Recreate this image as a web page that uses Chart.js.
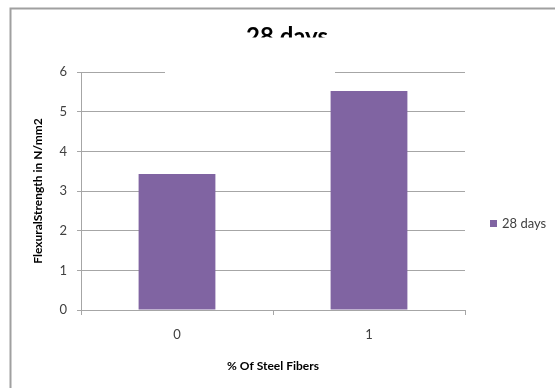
<!DOCTYPE html>
<html>
<head>
<meta charset="utf-8">
<script src="https://cdn.jsdelivr.net/npm/chart.js@4.4.0/dist/chart.umd.min.js"></script>
<style>
  html, body { margin: 0; padding: 0; background: #ffffff; }
  #wrap { width: 555px; height: 388px; position: relative; }
</style>
</head>
<body>
<div id="wrap"><canvas id="c" width="555" height="388"></canvas></div>
<script>
// Flexural strength at 28 days vs. steel fibre content
const categories = ['0', '1'];
const strength28 = [3.43, 5.52];
const yTicks = [0, 1, 2, 3, 4, 5, 6];
const seriesName = '28 days';
const chartTitle = '28 days';
const xTitle = '% Of Steel Fibers';
const yTitle = 'FlexuralStrength in N/mm2';

const FONT = 'Lato, "Liberation Sans", sans-serif';
const BAR_COLOR = '#8064A2';
const GRID = '#a6a6a6';

// Frame, heading (partly masked by its own white box) and side legend
const decorations = {
  id: 'decorations',
  beforeDraw(chart) {
    const ctx = chart.ctx;
    ctx.save();
    ctx.fillStyle = '#ffffff';
    ctx.fillRect(0, 0, chart.width, chart.height);
    ctx.restore();
  },
  afterDraw(chart) {
    const ctx = chart.ctx;
    ctx.save();
    // outer frame
    ctx.strokeStyle = '#a0a0a0';
    ctx.lineWidth = 2;
    ctx.strokeRect(10.5, 8.5, 700, 500);

    // heading
    ctx.fillStyle = '#000000';
    ctx.font = 'bold 24px ' + FONT;
    ctx.textAlign = 'center';
    ctx.textBaseline = 'alphabetic';
    ctx.fillText(chartTitle, 287, 45);

    // white box over the lower half of the heading
    ctx.fillStyle = '#ffffff';
    ctx.fillRect(165, 37.5, 170, 37);

    // legend
    ctx.fillStyle = BAR_COLOR;
    ctx.fillRect(490, 220, 7, 7);
    ctx.fillStyle = '#404040';
    ctx.font = '13px ' + FONT;
    ctx.textAlign = 'left';
    ctx.textBaseline = 'middle';
    ctx.fillText(seriesName, 502, 224);
    ctx.restore();
  }
};

new Chart(document.getElementById('c'), {
  type: 'bar',
  data: {
    labels: categories,
    datasets: [{
      label: seriesName,
      data: strength28,
      backgroundColor: BAR_COLOR,
      borderWidth: 0,
      barPercentage: 0.4,
      categoryPercentage: 1.0
    }]
  },
  options: {
    responsive: false,
    animation: false,
    layout: { padding: { top: 72, right: 90, bottom: 0, left: 0 } },
    plugins: {
      legend: { display: false },
      title: { display: false },
      tooltip: { enabled: false }
    },
    scales: {
      x: {
        offset: true,
        grid: {
          display: true,
          drawOnChartArea: false,
          drawTicks: true,
          tickLength: 5,
          color: GRID,
          offset: true
        },
        border: { display: true, color: GRID, width: 1 },
        ticks: {
          color: '#404040',
          font: { family: FONT, size: 13 },
          padding: 12
        },
        title: {
          display: true,
          text: xTitle,
          color: '#000000',
          font: { family: FONT, size: 12, weight: 'bold' },
          padding: { top: 0, bottom: 14.8 }
        },
        afterFit(scale) { scale.height = 78; }
      },
      y: {
        min: yTicks[0],
        max: yTicks[yTicks.length - 1],
        afterBuildTicks(scale) { scale.ticks = yTicks.map(v => ({ value: v })); },
        grid: {
          color: GRID,
          drawTicks: true,
          tickLength: 4
        },
        border: { display: true, color: GRID, width: 1 },
        ticks: {
          color: '#404040',
          font: { family: FONT, size: 13 },
          padding: 10
        },
        title: {
          display: true,
          text: yTitle,
          color: '#000000',
          font: { family: FONT, size: 12, weight: 'bold' },
          padding: { top: 30.8, bottom: 0 }
        },
        afterFit(scale) { scale.width = 81; }
      }
    }
  },
  plugins: [decorations]
});
</script>
</body>
</html>
